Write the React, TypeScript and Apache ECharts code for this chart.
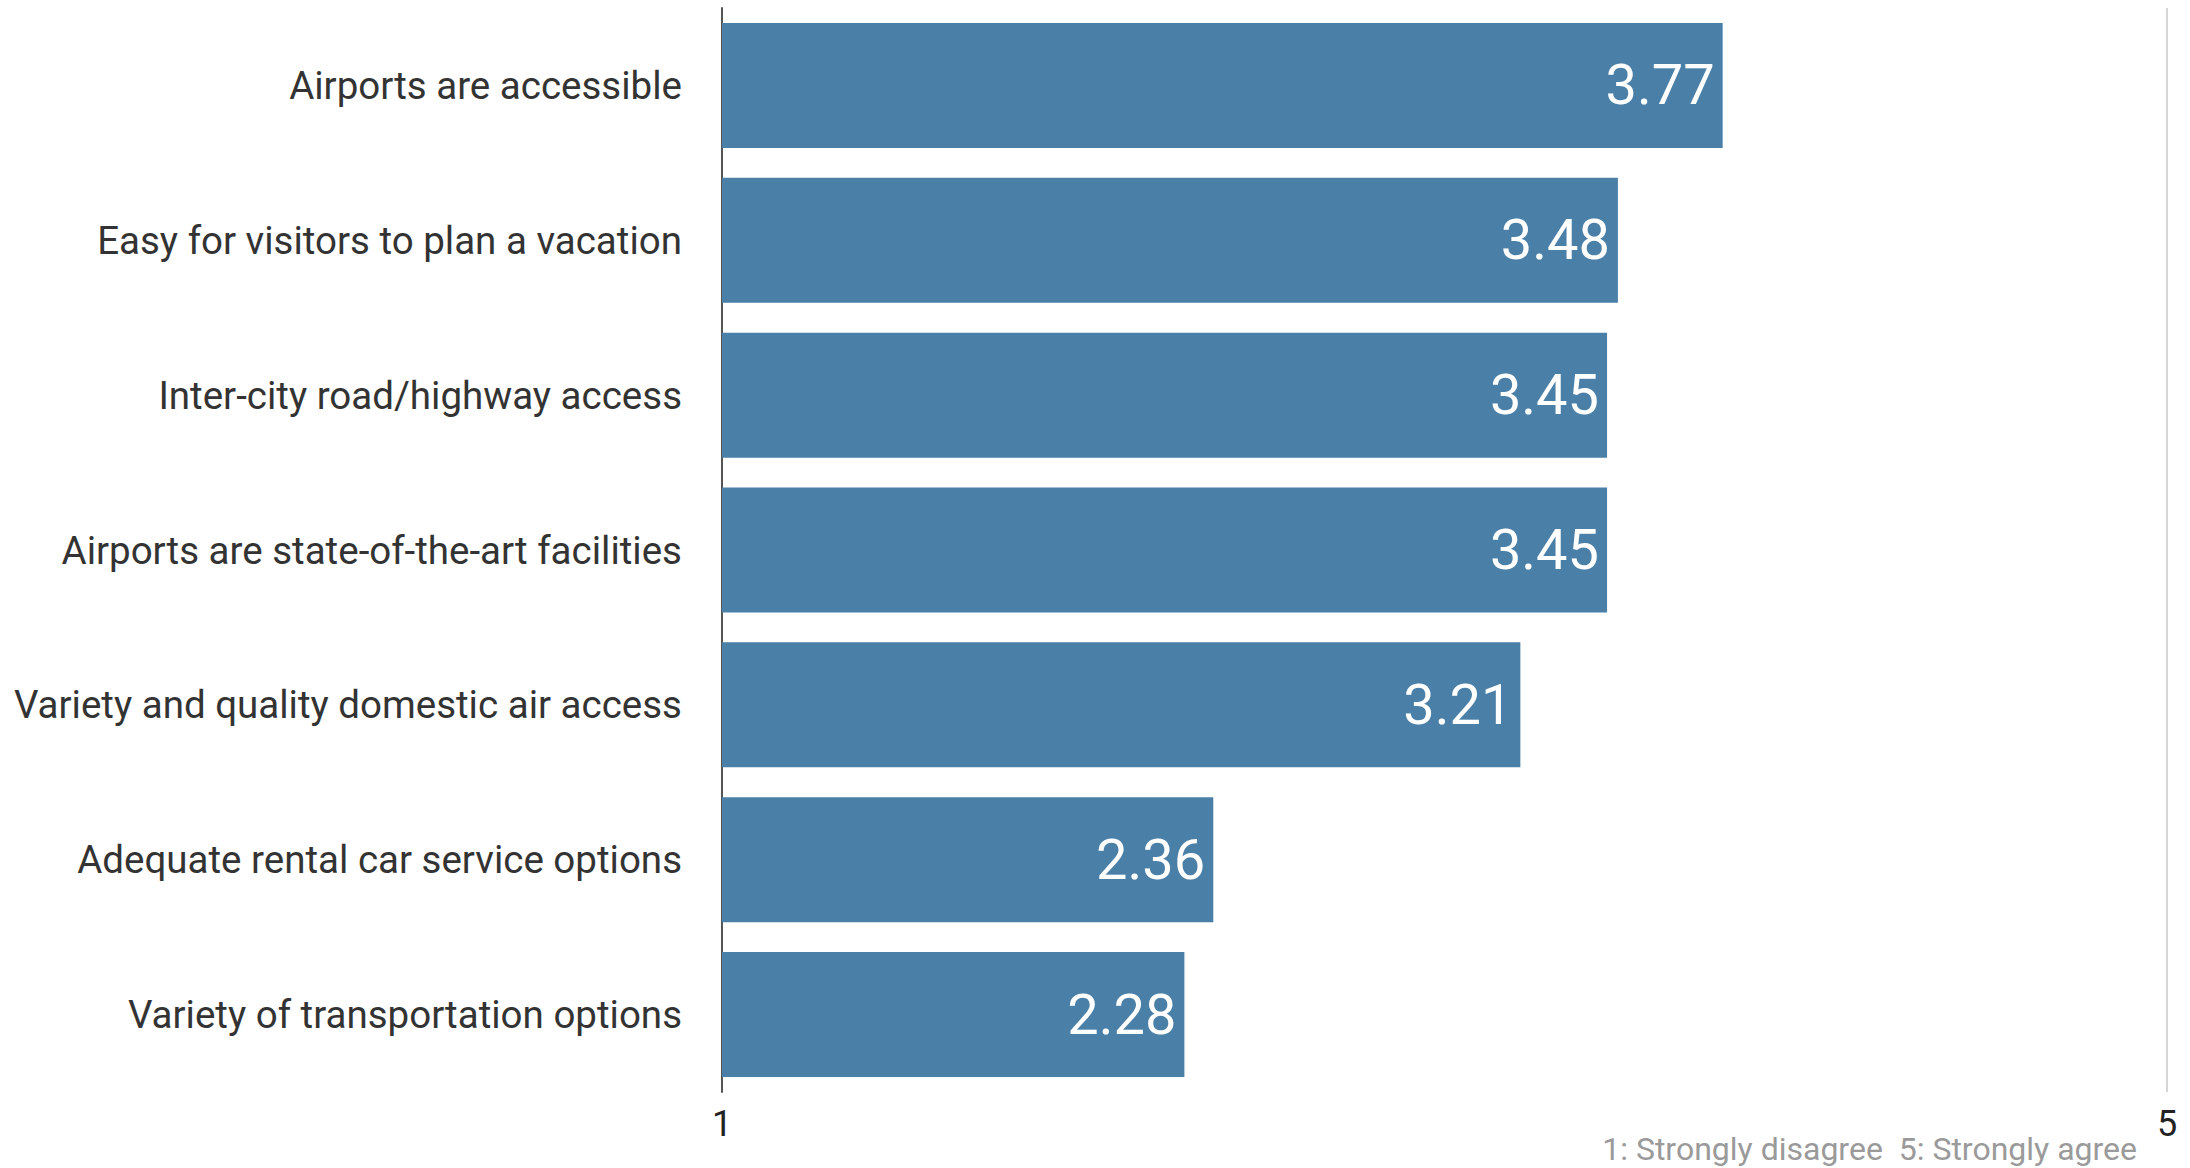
import React, { useEffect, useRef } from "react";
import * as echarts from "echarts";

const categories = [
  "Airports are accessible",
  "Easy for visitors to plan a vacation",
  "Inter-city road/highway access",
  "Airports are state-of-the-art facilities",
  "Variety and quality domestic air access",
  "Adequate rental car service options",
  "Variety of transportation options",
];
const values = [3.77, 3.48, 3.45, 3.45, 3.21, 2.36, 2.28];
const footnote = "1: Strongly disagree  5: Strongly agree";
const scaleMin = 1;
const scaleMax = 5;

export default function App() {
  const ref = useRef<HTMLDivElement>(null);
  useEffect(() => {
    if (!ref.current) return;
    const chart = echarts.init(ref.current, null, { renderer: "svg" });
    chart.setOption({
      animation: false,
      backgroundColor: "#ffffff",
      grid: { left: 722, right: 23, top: 8, bottom: 76, containLabel: false },
      xAxis: {
        type: "value",
        min: scaleMin,
        max: scaleMax,
        interval: 4,
        axisLine: { show: false },
        axisTick: { show: false },
        axisLabel: {
          fontFamily: "Roboto",
          fontSize: 36,
          color: "#222222",
          margin: 14,
        },
        splitLine: { show: true, lineStyle: { color: "#d6d6d6", width: 2 } },
      },
      yAxis: {
        type: "category",
        inverse: true,
        data: categories,
        axisLine: { show: true, lineStyle: { color: "#555555", width: 2 } },
        axisTick: { show: false },
        axisLabel: {
          fontFamily: "Roboto",
          fontSize: 38.5,
          color: "#333333",
          margin: 40,
        },
      },
      series: [
        {
          type: "bar",
          data: values,
          barWidth: 125,
          itemStyle: { color: "#4a7fa7" },
          label: {
            show: true,
            position: "insideRight",
            distance: 8,
            color: "#ffffff",
            fontFamily: "Roboto",
            fontSize: 56,
            formatter: (p: any) => p.value.toFixed(2),
          },
        },
      ],
      graphic: [
        {
          type: "text",
          right: 53,
          top: 1133,
          style: {
            text: footnote,
            fontFamily: "Roboto",
            fontSize: 32,
            fill: "#9a9a9a",
          },
        },
      ],
    });
    return () => chart.dispose();
  }, []);
  return (
    <div
      ref={ref}
      style={{ position: "fixed", left: 0, top: 0, width: 2190, height: 1168 }}
    />
  );
}
